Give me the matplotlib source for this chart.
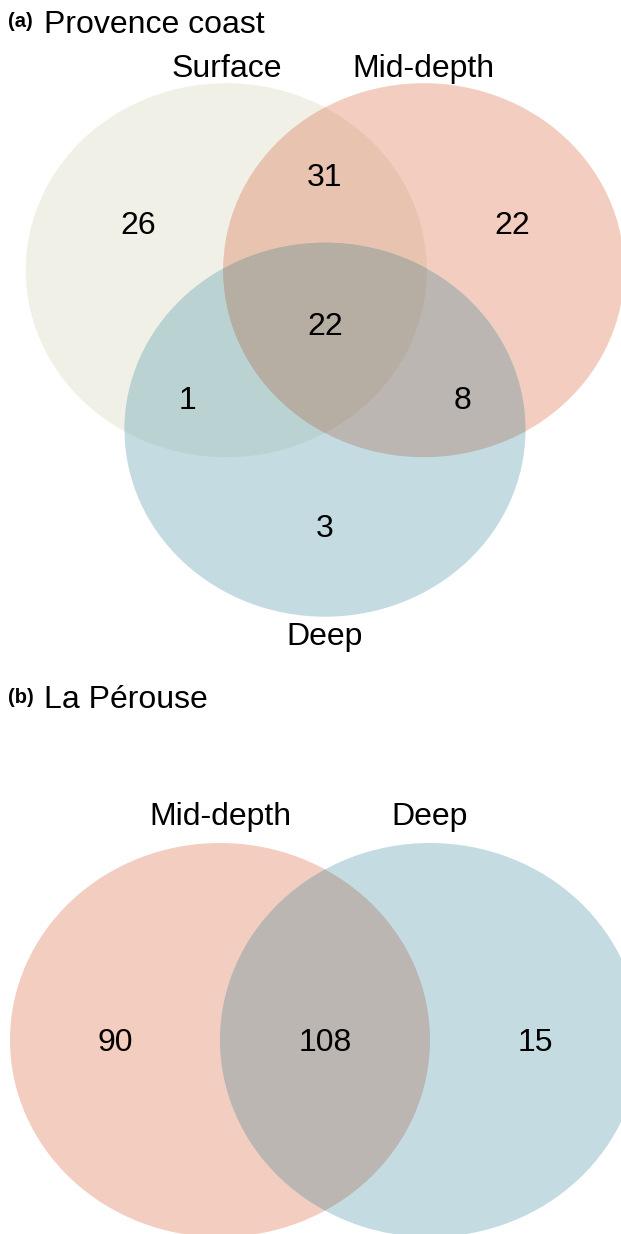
import numpy as np
import matplotlib
matplotlib.use("Agg")
import matplotlib.pyplot as plt
from matplotlib.patches import Circle, Polygon

plt.rcParams['font.family'] = ['Liberation Sans', 'DejaVu Sans']

# panel (a) - Provence coast
sets_a = ["Surface", "Mid-depth", "Deep"]
only_a = [26, 22, 3]            # Surface, Mid-depth, Deep alone
pairs_a = [31, 1, 8]            # S&M, S&D, M&D
all_a = 22

# panel (b) - La Perouse
sets_b = ["Mid-depth", "Deep"]
only_b = [90, 15]
both_b = 108

# region colours (flat, multiply-like overlaps)
col = {"Surface": "#f0f0e6", "Mid-depth": "#f2cdc0", "Deep": "#c4dce1"}
col_pair = {("Surface", "Mid-depth"): "#e8c4b0",
            ("Surface", "Deep"): "#bbd2d2",
            ("Mid-depth", "Deep"): "#bbb6b1"}
col_all = "#b6ada3"

W, H = 621, 1234
fig = plt.figure(figsize=(W / 100, H / 100), dpi=100)
FS = 23


def lens(c1, c2, n=720):
    t = np.linspace(0, 2 * np.pi, n)
    p1 = np.c_[c1[0] + np.cos(t), c1[1] + np.sin(t)]
    p2 = np.c_[c2[0] + np.cos(t), c2[1] + np.sin(t)]
    pts = np.vstack([p1[np.hypot(p1[:, 0] - c2[0], p1[:, 1] - c2[1]) <= 1],
                     p2[np.hypot(p2[:, 0] - c1[0], p2[:, 1] - c1[1]) <= 1]])
    m = pts.mean(axis=0)
    order = np.argsort(np.arctan2(pts[:, 1] - m[1], pts[:, 0] - m[0]))
    return pts[order]


def venn(ax, names, centers, pair_idx):
    circles = []
    for name, c in zip(names, centers):
        p = Circle(c, 1, fc=col[name], ec="none", lw=0)
        ax.add_patch(p)
        circles.append(p)
    for i, j in pair_idx:
        p = Circle(centers[j], 1, fc=col_pair[(names[i], names[j])], ec="none", lw=0)
        ax.add_patch(p)
        p.set_clip_path(circles[i])
    return circles


# ---- panel (a) ----
ax = fig.add_axes([0, 1 - 660 / H, 1, 660 / H])
ax.set_xlim(-325 / 200.5, (W - 325) / 200.5)
ax.set_ylim((323.3 - 660) / 187, 323.3 / 187)
ax.axis("off")

s = 0.985 / 2
centers_a = [(-s, 0.284), (s, 0.284), (0, -0.569)]
circ = venn(ax, sets_a, centers_a, [(0, 1), (0, 2), (1, 2)])
tri = Polygon(lens(centers_a[0], centers_a[1]), closed=True, fc=col_all, ec="none", lw=0)
ax.add_patch(tri)
tri.set_clip_path(circ[2])

num_pos_a = [(-0.933, 0.478), (0.933, 0.478), (0, -1.143)]
for v, (x, y) in zip(only_a, num_pos_a):
    ax.text(x, y, str(v), ha="center", va="baseline", fontsize=FS)
pair_pos_a = [(0, 0.734), (-0.688, -0.458), (0.688, -0.458)]
for v, (x, y) in zip(pairs_a, pair_pos_a):
    ax.text(x, y, str(v), ha="center", va="baseline", fontsize=FS)
ax.text(0, -0.063, str(all_a), ha="center", va="baseline", fontsize=FS)

lab_pos_a = [(-0.491, 1.317), (0.491, 1.317), (0, -1.72)]
for name, (x, y) in zip(sets_a, lab_pos_a):
    ax.text(x, y, name, ha="center", va="baseline", fontsize=FS)

fig.text(8 / W, 1 - 27 / H, "(a)", fontsize=14.5, fontweight="bold", va="baseline")
fig.text(44 / W, 1 - 33 / H, "Provence coast", fontsize=FS, va="baseline")

# ---- panel (b) ----
ax = fig.add_axes([0, 0, 1, (H - 660) / H])
ax.set_xlim(-325 / 210, (W - 325) / 210)
ax.set_ylim((1040 - H) / 197, (1040 - 660) / 197)
ax.axis("off")

centers_b = [(-0.5, 0), (0.5, 0)]
venn(ax, sets_b, centers_b, [(0, 1)])

for v, x in zip([only_b[0], both_b, only_b[1]], [-1.0, 0, 1.0]):
    ax.text(x, -0.056, str(v), ha="center", va="baseline", fontsize=FS)
for name, x in zip(sets_b, [-0.5, 0.5]):
    ax.text(x, 1.091, name, ha="center", va="baseline", fontsize=FS)

fig.text(8 / W, 1 - 703 / H, "(b)", fontsize=14.5, fontweight="bold", va="baseline")
fig.text(44 / W, 1 - 708 / H, "La Pérouse", fontsize=FS, va="baseline")

fig.savefig("out.png", dpi=100)
